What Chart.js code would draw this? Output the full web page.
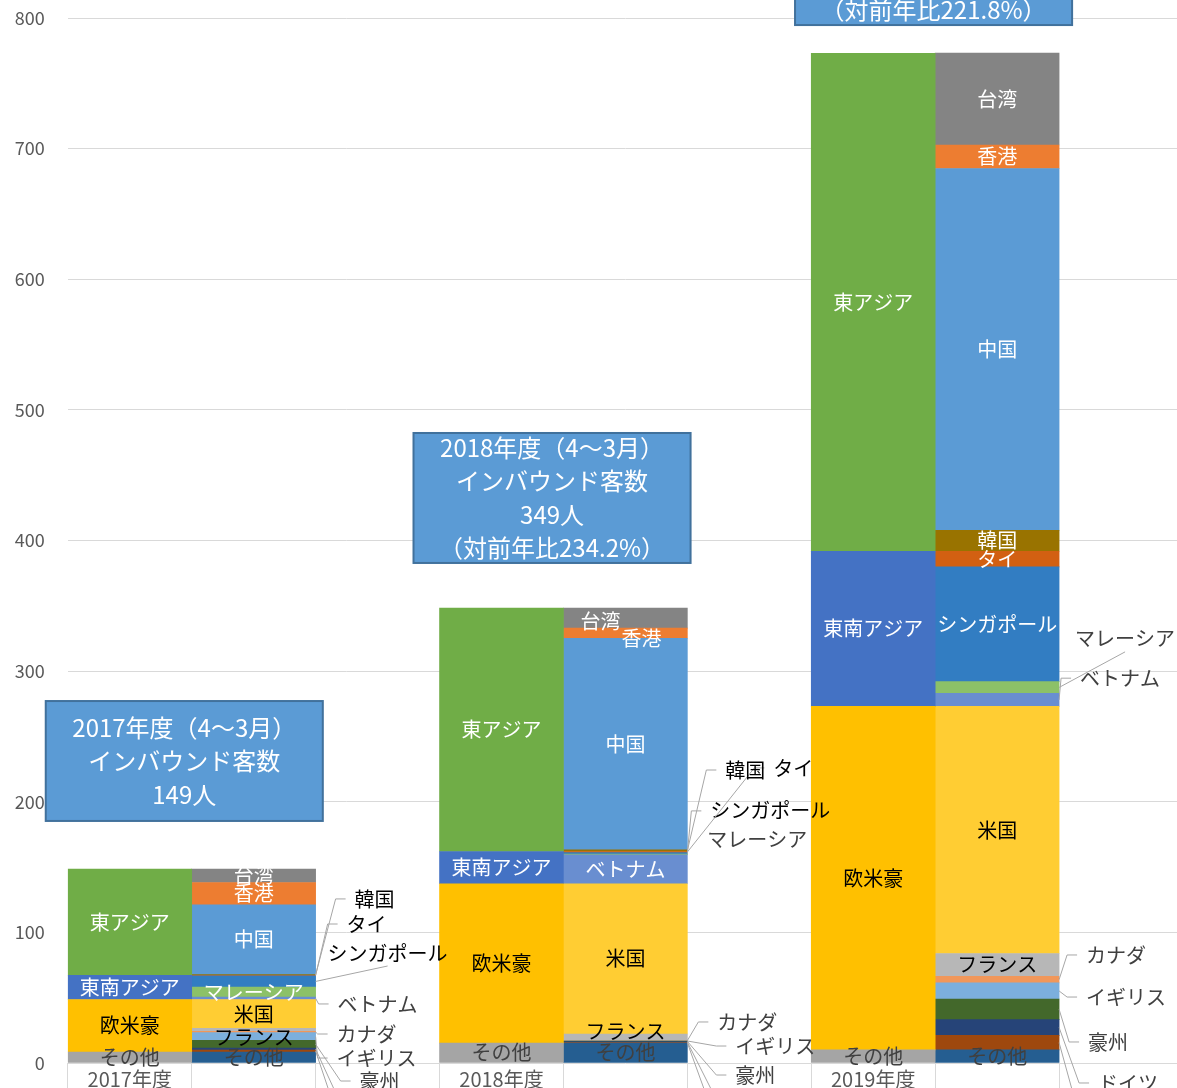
<!DOCTYPE html>
<html><head><meta charset="utf-8">
<script src="https://cdn.jsdelivr.net/npm/chart.js@4.4.1/dist/chart.umd.min.js"></script>
<style>
html,body{margin:0;padding:0;overflow:hidden;background:#fff;width:1177px;height:1088px}
canvas{display:block}
</style></head>
<body>
<canvas id="c" width="1183" height="1140"></canvas>
<script>
// ---- categories & ticks ----
const categories = ['2017年度','','','2018年度','','','2019年度','',''];
const regionCols = [0,3,6];
const countryCols = [1,4,7];
const yTickValues = [0,100,200,300,400,500,600,700,800];

// ---- region series (left bars) ----
const regionOther   = [8.4, 15.2, 10.0];
const regionWestern = [40.2, 122.0, 263.0];
const regionSEAsia  = [18.6, 24.7, 118.7];
const regionEAsia   = [81.2, 186.3, 381.3];

// ---- country series (right bars), bottom to top ----
const otherCountries = [8.4, 15.2, 10.0];
const italy     = [1.5, 0.5, 11.2];
const germany   = [1.5, 0.7, 12.0];
const australia = [5.9, 0.3, 15.8];
const uk        = [5.9, 0.3, 12.3];
const canada    = [1.0, 0.3, 5.1];
const france    = [2.3, 4.9, 17.4];
const usa       = [22.1, 115.0, 189.2];
const vietnam   = [1.8, 22.2, 10.0];
const malaysia  = [7.7, 0.5, 9.0];
const singapore = [8.7, 1.2, 87.8];
const thailand  = [0.4, 0.8, 12.0];
const korea     = [0.5, 1.2, 16.0];
const china     = [53.4, 162.1, 277.0];
const hongkong  = [17.1, 7.7, 18.0];
const taiwan    = [10.2, 15.3, 70.3];

// ---- text box content ----
const yearNames = ['2017年度','2018年度','2019年度'];
const totals = [149, 349, 773];
const growth = [null, '234.2', '221.8'];

// ---- series definitions ----
const series = [
  {key:'rOther', label:'その他', values:regionOther, cols:regionCols},
  {key:'rWest', label:'欧米豪', values:regionWestern, cols:regionCols},
  {key:'rSEA', label:'東南アジア', values:regionSEAsia, cols:regionCols},
  {key:'rEA', label:'東アジア', values:regionEAsia, cols:regionCols},
  {key:'cOther', label:'その他', values:otherCountries, cols:countryCols},
  {key:'italy', label:'イタリア', values:italy, cols:countryCols},
  {key:'germany', label:'ドイツ', values:germany, cols:countryCols},
  {key:'australia', label:'豪州', values:australia, cols:countryCols},
  {key:'uk', label:'イギリス', values:uk, cols:countryCols},
  {key:'canada', label:'カナダ', values:canada, cols:countryCols},
  {key:'france', label:'フランス', values:france, cols:countryCols},
  {key:'usa', label:'米国', values:usa, cols:countryCols},
  {key:'vietnam', label:'ベトナム', values:vietnam, cols:countryCols},
  {key:'malaysia', label:'マレーシア', values:malaysia, cols:countryCols},
  {key:'singapore', label:'シンガポール', values:singapore, cols:countryCols},
  {key:'thailand', label:'タイ', values:thailand, cols:countryCols},
  {key:'korea', label:'韓国', values:korea, cols:countryCols},
  {key:'china', label:'中国', values:china, cols:countryCols},
  {key:'hongkong', label:'香港', values:hongkong, cols:countryCols},
  {key:'taiwan', label:'台湾', values:taiwan, cols:countryCols}
];

const colors = {rOther:'#A5A5A5', rWest:'#FFC000', rSEA:'#4472C4', rEA:'#70AD47',
  cOther:'#255E91', italy:'#9E480E', germany:'#264478', australia:'#43682B', uk:'#7CAFDD',
  canada:'#F1975A', france:'#B7B7B7', usa:'#FFCD33', vietnam:'#698ED0', malaysia:'#8CC168',
  singapore:'#327DC2', thailand:'#D26012', korea:'#997300', china:'#5B9BD5', hongkong:'#ED7D31', taiwan:'#848484'};
const inTextColor = {rOther:'#404040', cOther:'#404040', rWest:'#000000', usa:'#000000', france:'#000000'};
const outTextColor = {korea:'#000000', thailand:'#000000', singapore:'#000000'};

// label layout: 'in' centered; {dx,dy} inside offset; {out: px right of bar, v: value for label centre}
const labelLayout = {
  rOther:['in','in','in'], rWest:['in','in','in'], rSEA:['in','in','in'], rEA:['in','in','in'],
  cOther:['in','in','in'],
  italy:[{out:44,v:-48},{out:48,v:-46},{out:39,v:-40}],
  germany:[{out:44,v:-31},{out:48,v:-28},{out:39,v:-15.3}],
  australia:[{out:44,v:-13.8},{out:48,v:-9.2},{out:29,v:16.1}],
  uk:[{out:21,v:3.8},{out:48,v:13},{out:27,v:50.5}],
  canada:[{out:21,v:22.2},{out:30,v:31.4},{out:27,v:82.7}],
  france:[{dy:8},{dy:-6},'in'],
  usa:['in','in','in'],
  vietnam:[{out:22,v:45.2},'in',{out:21,v:294.6}],
  malaysia:['in',{out:20,v:171.5,line:false},{out:16,v:324.7}],
  singapore:[{out:12,v:84.2},{out:23,v:193},'in'],
  thailand:[{out:31,v:106.4},{out:86,v:225.9},'in'],
  korea:[{out:39,v:125.6},{out:38,v:224.3},'in'],
  china:['in','in','in'],
  hongkong:['in',{dx:16,dy:5},'in'],
  taiwan:['in',{dx:-25,dy:3},'in']
};

// text boxes (centre in category units, top/bottom in value units)
const boxLayout = [
  {cx:0.44, top:277.1, bottom:185.3},
  {cx:3.408, top:482.3, bottom:382.8},
  {cx:6.487, top:894.2, bottom:794.6}
];

function spread(vals, cols){
  const a = new Array(categories.length).fill(null);
  cols.forEach((c,i)=>{a[c]=vals[i];});
  return a;
}

const FONT = '"Noto Sans CJK JP", "Noto Sans", sans-serif';

const datasets = series.map(s => ({
  key:s.key, label:s.label, cols:s.cols,
  data:spread(s.values, s.cols),
  backgroundColor:colors[s.key],
  borderWidth:0,
  barPercentage:1, categoryPercentage:1
}));

const segLabels = {
  id:'segLabels',
  afterDatasetsDraw(chart){
    const ctx = chart.ctx, y = chart.scales.y;
    ctx.save();
    ctx.font = '20px ' + FONT;
    ctx.textBaseline = 'middle';
    chart.data.datasets.forEach((ds, di) => {
      const meta = chart.getDatasetMeta(di);
      const lay = labelLayout[ds.key];
      ds.cols.forEach((col, yi) => {
        const spec = lay[yi];
        if (!spec) return;
        const el = meta.data[col];
        const cy = (el.y + el.base) / 2;
        const right = el.x + el.width / 2;
        if (spec === 'in' || spec.out === undefined) {
          const dx = spec.dx || 0, dy = spec.dy || 0;
          ctx.fillStyle = inTextColor[ds.key] || '#FFFFFF';
          ctx.textAlign = 'center';
          ctx.fillText(ds.label, el.x + dx, cy + dy);
        } else {
          const tx = right + spec.out, ty = y.getPixelForValue(spec.v);
          const w = ctx.measureText(ds.label).width;
          if (spec.line !== false) {
            ctx.strokeStyle = '#A6A6A6'; ctx.lineWidth = 1;
            ctx.beginPath(); ctx.moveTo(right, cy);
            if (spec.out < 18) {
              const ey = ty < cy ? ty + 13 : ty - 13;
              ctx.lineTo(tx + w/2, ey);
            } else {
              ctx.lineTo(tx - 19, ty); ctx.lineTo(tx - 9, ty);
            }
            ctx.stroke();
          }
          ctx.fillStyle = outTextColor[ds.key] || '#404040';
          ctx.textAlign = 'left';
          ctx.fillText(ds.label, tx, ty);
        }
      });
    });
    ctx.restore();
  }
};

const textBoxes = {
  id:'textBoxes',
  afterDraw(chart){
    const ctx = chart.ctx, x = chart.scales.x, y = chart.scales.y;
    const p0 = x.getPixelForValue(0), cw = x.getPixelForValue(1) - p0;
    ctx.save();
    boxLayout.forEach((b, i) => {
      const lines = [yearNames[i] + '（4～3月）', 'インバウンド客数', totals[i] + '人'];
      if (growth[i]) lines.push('（対前年比' + growth[i] + '%）');
      const cx = p0 + b.cx * cw;
      const w = 2.236 * cw;
      const top = y.getPixelForValue(b.top), bot = y.getPixelForValue(b.bottom);
      ctx.fillStyle = '#5B9BD5';
      ctx.fillRect(cx - w/2, top, w, bot - top);
      ctx.strokeStyle = '#41719C'; ctx.lineWidth = 2;
      ctx.strokeRect(cx - w/2, top, w, bot - top);
      ctx.fillStyle = '#FFFFFF';
      ctx.font = '24px ' + FONT;
      ctx.textAlign = 'center'; ctx.textBaseline = 'middle';
      const lh = 33.5, mid = (top + bot) / 2;
      lines.forEach((t, k) => {
        ctx.fillText(t, cx, mid + (k - (lines.length - 1) / 2) * lh);
      });
    });
    ctx.restore();
  }
};

new Chart(document.getElementById('c'), {
  type:'bar',
  data:{labels:categories, datasets},
  options:{
    responsive:false, animation:false,
    layout:{autoPadding:false, padding:{top:18, left:0, right:0, bottom:0}},
    plugins:{legend:{display:false}, tooltip:{enabled:false}},
    scales:{
      x:{
        stacked:true,
        afterFit(s){ s.height = 77; s.paddingLeft = 0; s.paddingRight = 0; s.paddingTop = 0; s.paddingBottom = 0; },
        border:{display:false},
        grid:{offset:true, drawOnChartArea:false, drawTicks:true, tickLength:30, color:'#D9D9D9'},
        ticks:{autoSkip:false, maxRotation:0, padding:-26, color:'#595959', font:{family:FONT, size:20}}
      },
      y:{
        stacked:true, min:0, max:800,
        afterFit(s){ s.width = 67.8; s.paddingTop = 0; s.paddingBottom = 0; s.paddingLeft = 0; s.paddingRight = 0; },
        afterBuildTicks(s){ s.ticks = yTickValues.map(v => ({value:v})); },
        border:{display:false},
        grid:{color:'#D9D9D9', drawTicks:false},
        ticks:{padding:23, color:'#595959', font:{family:FONT, size:18}}
      }
    }
  },
  plugins:[segLabels, textBoxes]
});
</script>
</body></html>
